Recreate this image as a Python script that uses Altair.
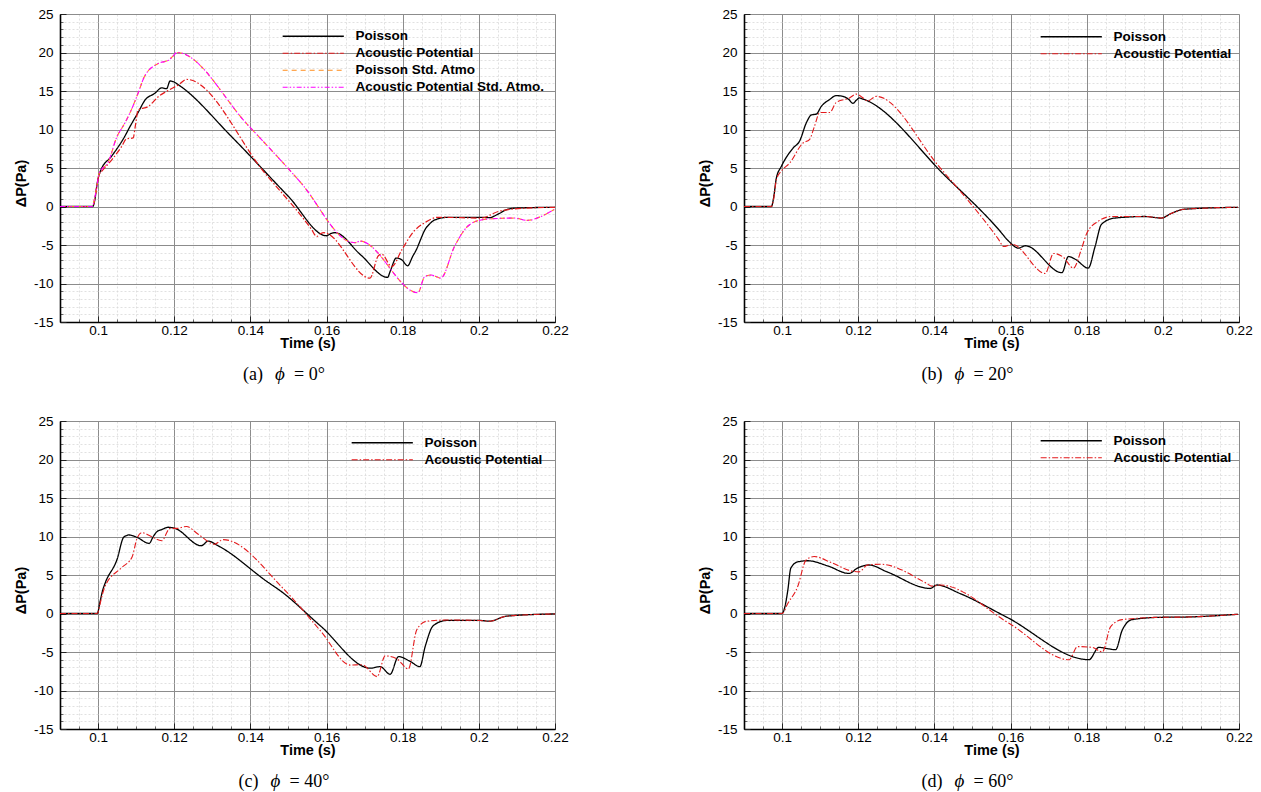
import altair as alt
import pandas as pd

# ---------------- data ----------------
SERIES = ["Poisson", "Acoustic Potential", "Poisson Std. Atmo", "Acoustic Potential Std. Atmo."]
COLORS = ["#000000", "#e31a1c", "#ff8c1a", "#ff00ff"]
DASHES = [[1, 0], [6, 2, 1.5, 2], [5, 4], [5, 2, 1.5, 2, 1.5, 2]]
WIDTHS = [1.3, 1.1, 1.1, 1.1]

# (a) phi = 0
a_poi_t = [0.09, 0.0986, 0.0992, 0.0997, 0.1002, 0.1008, 0.1035, 0.107, 0.1084, 0.1105, 0.1123, 0.1149, 0.1167, 0.118, 0.1189, 0.1198, 0.1211, 0.135, 0.15, 0.16, 0.1612, 0.1622, 0.169, 0.176, 0.1768, 0.1783, 0.1797, 0.1813, 0.1826, 0.1836, 0.1847, 0.1858, 0.187, 0.1884, 0.192, 0.2005, 0.2028, 0.205, 0.2076, 0.21, 0.22]
a_poi_v = [0, 0, 1.0, 2.8, 4.0, 4.8, 6.5, 9.1, 10.4, 12.2, 13.8, 14.7, 15.4, 15.3, 16.3, 16.2, 15.8, 9.1, 1.3, -3.8, -3.5, -3.4, -6.3, -9.2, -8.3, -6.7, -6.9, -7.7, -6.5, -5.6, -4.3, -3.05, -2.3, -1.75, -1.4, -1.4, -1.45, -1.0, -0.35, -0.2, -0.1]
a_ap_t = [0.09, 0.0985, 0.0992, 0.0998, 0.1003, 0.101, 0.1035, 0.1062, 0.1075, 0.1092, 0.1098, 0.1105, 0.1132, 0.1159, 0.1185, 0.1211, 0.1233, 0.1437, 0.1561, 0.1574, 0.1585, 0.1593, 0.1714, 0.1736, 0.1745, 0.1771, 0.1798, 0.1828, 0.1858, 0.1893, 0.2006, 0.2051, 0.2095, 0.22]
a_ap_v = [0, 0, 1.2, 3.0, 4.2, 4.6, 6.0, 7.8, 8.8, 8.9, 10.5, 12.5, 13.0, 14.3, 15.1, 15.8, 16.5, 4.4, -3.0, -3.9, -3.5, -3.4, -9.3, -6.4, -6.2, -7.8, -5.6, -3.3, -2.1, -1.4, -1.5, -0.65, -0.3, -0.1]
a_psa_t = [0.09, 0.0985, 0.0992, 0.0998, 0.1003, 0.1027, 0.1049, 0.107, 0.1085, 0.1105, 0.1122, 0.1159, 0.1185, 0.1196, 0.1207, 0.1393, 0.1534, 0.1662, 0.1675, 0.1688, 0.184, 0.1858, 0.1875, 0.19, 0.1936, 0.197, 0.2006, 0.205, 0.2093, 0.2128, 0.2163, 0.2198]
a_psa_v = [0, 0, 1.3, 3.0, 4.3, 5.8, 9.0, 10.8, 12.3, 14.7, 16.9, 18.6, 19.0, 19.5, 20.0, 10.6, 3.0, -4.6, -4.7, -4.5, -11.2, -9.1, -8.9, -9.3, -5.2, -2.6, -1.75, -1.55, -1.5, -1.8, -1.3, -0.4]
a_apsa_t = [0.09, 0.0985, 0.0992, 0.0998, 0.1003, 0.1027, 0.1049, 0.107, 0.1085, 0.1105, 0.1122, 0.1159, 0.1185, 0.1196, 0.1207, 0.1393, 0.1534, 0.1662, 0.1675, 0.1688, 0.184, 0.1858, 0.1875, 0.19, 0.1936, 0.197, 0.2006, 0.205, 0.2093, 0.2128, 0.2163, 0.2198]
a_apsa_v = [0, 0, 1.3, 3.0, 4.3, 5.8, 9.0, 10.8, 12.3, 14.7, 16.9, 18.6, 19.0, 19.5, 20.0, 10.6, 3.0, -4.6, -4.7, -4.5, -11.2, -9.1, -8.9, -9.3, -5.2, -2.6, -1.75, -1.55, -1.5, -1.8, -1.3, -0.4]

# (b) phi = 20
b_poi_t = [0.09, 0.0972, 0.0978, 0.0985, 0.0998, 0.1029, 0.1046, 0.1064, 0.1077, 0.109, 0.1103, 0.1125, 0.1142, 0.116, 0.1175, 0.1186, 0.1195, 0.1203, 0.121, 0.143, 0.1569, 0.1595, 0.1621, 0.1639, 0.1735, 0.1752, 0.177, 0.1804, 0.1822, 0.1839, 0.1874, 0.1953, 0.1996, 0.2022, 0.2057, 0.2197]
b_poi_v = [0, 0, 1.2, 3.7, 5.2, 7.6, 8.5, 10.9, 11.9, 12.0, 13.0, 13.9, 14.4, 14.3, 13.9, 13.4, 13.8, 14.1, 14.0, 3.9, -3.0, -4.5, -5.4, -5.1, -8.6, -6.5, -6.85, -8.0, -5.2, -2.3, -1.5, -1.3, -1.5, -0.9, -0.35, -0.1]
b_ap_t = [0.09, 0.0972, 0.0978, 0.0985, 0.0998, 0.102, 0.1055, 0.1072, 0.1085, 0.1099, 0.1125, 0.1142, 0.1177, 0.1195, 0.121, 0.1225, 0.1247, 0.1412, 0.1569, 0.1582, 0.1604, 0.1691, 0.1713, 0.1739, 0.1765, 0.1787, 0.18, 0.1831, 0.1865, 0.1953, 0.1996, 0.2022, 0.2057, 0.2197]
b_ap_v = [0, 0, 1.0, 3.5, 4.6, 5.65, 8.25, 8.7, 10.4, 12.2, 12.2, 13.5, 14.1, 14.6, 14.2, 13.7, 14.3, 5.2, -4.3, -5.2, -4.9, -8.7, -6.1, -6.6, -8.0, -5.4, -3.5, -1.9, -1.3, -1.3, -1.5, -0.9, -0.35, -0.1]

# (c) phi = 40
c_poi_t = [0.09, 0.0998, 0.1005, 0.1012, 0.1019, 0.105, 0.1067, 0.1074, 0.108, 0.1102, 0.1134, 0.1145, 0.1154, 0.1167, 0.1184, 0.1202, 0.1271, 0.1289, 0.1315, 0.1445, 0.148, 0.1585, 0.1715, 0.1741, 0.1767, 0.1789, 0.1819, 0.1845, 0.1859, 0.188, 0.1915, 0.2002, 0.2028, 0.2072, 0.22]
c_poi_v = [0, 0, 1.5, 3.0, 4.0, 7.05, 9.9, 10.1, 10.2, 9.9, 9.1, 10.0, 10.6, 10.9, 11.2, 11.05, 8.8, 9.4, 8.8, 4.1, 2.9, -1.65, -7.1, -6.9, -7.9, -5.6, -6.2, -6.9, -4.3, -1.6, -0.9, -0.9, -1.0, -0.35, -0.05]
c_ap_t = [0.09, 0.0998, 0.1005, 0.1012, 0.1019, 0.1063, 0.1089, 0.1102, 0.1115, 0.1136, 0.1167, 0.1189, 0.1206, 0.1232, 0.1263, 0.1306, 0.1328, 0.1489, 0.1585, 0.1663, 0.1693, 0.1733, 0.1754, 0.1785, 0.1815, 0.1837, 0.1863, 0.1915, 0.2002, 0.2028, 0.2072, 0.22]
c_ap_v = [0, 0, 1.2, 2.6, 3.6, 6.0, 7.3, 9.7, 10.5, 10.1, 9.45, 11.05, 11.05, 11.3, 10.3, 9.0, 9.6, 3.1, -2.3, -6.7, -6.65, -8.2, -5.5, -5.9, -7.2, -2.1, -1.0, -0.85, -0.9, -1.0, -0.35, -0.05]

# (d) phi = 60
d_poi_t = [0.09, 0.1, 0.1008, 0.1015, 0.1023, 0.1041, 0.1067, 0.1119, 0.1176, 0.1198, 0.1228, 0.1276, 0.1389, 0.1406, 0.1467, 0.1589, 0.1806, 0.1832, 0.1858, 0.1876, 0.1893, 0.1919, 0.1989, 0.2067, 0.2197]
d_poi_v = [0, 0, 1.0, 3.0, 5.9, 6.7, 6.85, 6.2, 5.2, 5.9, 6.3, 5.4, 3.25, 3.7, 2.6, -0.45, -6.0, -4.4, -4.6, -4.7, -2.2, -0.8, -0.5, -0.45, -0.1]
d_ap_t = [0.09, 0.1, 0.1015, 0.1041, 0.1063, 0.1084, 0.113, 0.118, 0.1202, 0.1224, 0.1258, 0.138, 0.1393, 0.1415, 0.1597, 0.1754, 0.1776, 0.1815, 0.1841, 0.1863, 0.1893, 0.1989, 0.2067, 0.2197]
d_ap_v = [0, 0, 1.3, 3.5, 6.95, 7.4, 6.6, 5.55, 5.4, 6.3, 6.4, 3.9, 3.55, 3.7, -1.3, -6.0, -4.3, -4.4, -5.0, -1.7, -0.8, -0.5, -0.45, -0.1]

# axis ticks
X_MAJOR = [0.1, 0.12, 0.14, 0.16, 0.18, 0.2, 0.22]
X_MINOR = [0.09, 0.095, 0.1, 0.105, 0.11, 0.115, 0.12, 0.125, 0.13, 0.135, 0.14, 0.145, 0.15, 0.155,
           0.16, 0.165, 0.17, 0.175, 0.18, 0.185, 0.19, 0.195, 0.2, 0.205, 0.21, 0.215, 0.22]
Y_MAJOR = [-15, -10, -5, 0, 5, 10, 15, 20, 25]
Y_MINOR = list(range(-15, 26))

# ---------------- layout constants ----------------
W, H = 495, 308
SANS = "Liberation Sans"
SERIF = "Liberation Serif"
# legend line symbol: custom path 12 units wide, scaled so that it is ~61 px long
SYM_PATH = "M-6,0H6"
SYM_SIZE = 104        # sqrt(104)/2 = 5.1 px per unit -> 61 px line
SYM_R = 5.1


def make_df(pairs):
    rows = []
    for name, ts, vs in pairs:
        for t, v in zip(ts, vs):
            rows.append({"series": name, "t": t, "v": v})
    return pd.DataFrame(rows)


def panel(pairs, line_start_x, first_row_y, letter, angle, shift):
    df = make_df(pairs)
    names = [p[0] for p in pairs]
    idx = [SERIES.index(n) for n in names]
    xs = alt.Scale(domain=[0.09, 0.22], nice=False, zero=False)
    ys = alt.Scale(domain=[-15, 25], nice=False, zero=False)
    base = alt.Chart(df)

    minor = base.mark_line(opacity=0).encode(
        x=alt.X("t:Q", scale=xs, axis=alt.Axis(
            orient="bottom", values=X_MINOR, grid=True, gridDash=[2, 2], gridColor="#d9d9d9",
            gridWidth=0.8, domain=False, labels=False, ticks=True, tickSize=3, tickColor="#444",
            tickWidth=0.8, offset=-3, title=None)),
        y=alt.Y("v:Q", scale=ys, axis=alt.Axis(
            orient="left", values=Y_MINOR, grid=True, gridDash=[2, 2], gridColor="#d9d9d9",
            gridWidth=0.8, domain=False, labels=False, ticks=True, tickSize=3, tickColor="#444",
            tickWidth=0.8, offset=-3, title=None)),
    )
    major = base.mark_line(opacity=0).encode(
        x=alt.X("t:Q", scale=xs, axis=alt.Axis(
            orient="bottom", values=X_MAJOR, grid=True, gridColor="#8c8c8c", gridWidth=1,
            domain=False, labels=False, ticks=True, tickSize=6, tickColor="#222", tickWidth=1,
            offset=-6, title=None)),
        y=alt.Y("v:Q", scale=ys, axis=alt.Axis(
            orient="left", values=Y_MAJOR, grid=True, gridColor="#8c8c8c", gridWidth=1,
            domain=False, labels=False, ticks=True, tickSize=6, tickColor="#222", tickWidth=1,
            offset=-6, title=None)),
    )
    labels = base.mark_line(opacity=0).encode(
        x=alt.X("t:Q", scale=xs, axis=alt.Axis(
            orient="bottom", values=X_MAJOR, grid=False, ticks=False, tickSize=0,
            domain=True, domainColor="#000", domainWidth=1.6,
            labelExpr="'' + datum.value", labelFont=SANS, labelFontSize=13.5, labelColor="#000",
            labelPadding=1, labelOverlap=False, labelFlush=False,
            title="Time (s)", titleFont=SANS, titleFontSize=14.5, titleFontWeight="bold",
            titleColor="#000", titleX=W / 2, titleY=25, titleBaseline="alphabetic",
            titleAlign="center")),
        y=alt.Y("v:Q", scale=ys, axis=alt.Axis(
            orient="left", values=Y_MAJOR, grid=False, ticks=False, tickSize=0,
            domain=True, domainColor="#000", domainWidth=1.6,
            labelExpr="'' + datum.value", labelFont=SANS, labelFontSize=13.5, labelColor="#000",
            labelPadding=7, labelOverlap=False, labelFlush=False,
            title="ΔP(Pa)", titleFont=SANS, titleFontSize=14.5, titleFontWeight="bold",
            titleColor="#000", titleAngle=270, titleX=-39, titleY=H / 2 + 15,
            titleBaseline="middle", titleAlign="center")),
    )

    leg = alt.Legend(orient="none", legendX=line_start_x + 6 * SYM_R - SYM_R,
                     legendY=first_row_y - 8, title=None,
                     symbolType=SYM_PATH, symbolSize=SYM_SIZE, symbolStrokeWidth=1.3,
                     labelFont=SANS, labelFontSize=13.5, labelFontWeight="bold",
                     labelColor="#000", labelOffset=6 * SYM_R - SYM_R + 10, labelLimit=400,
                     rowPadding=2, padding=0)
    lines = base.mark_line(interpolate="monotone", clip=True).encode(
        x=alt.X("t:Q", scale=xs, axis=None),
        y=alt.Y("v:Q", scale=ys, axis=None),
        color=alt.Color("series:N", scale=alt.Scale(domain=names, range=[COLORS[i] for i in idx]),
                        legend=leg),
        strokeDash=alt.StrokeDash("series:N",
                                  scale=alt.Scale(domain=names, range=[DASHES[i] for i in idx]),
                                  legend=leg),
        strokeWidth=alt.StrokeWidth("series:N",
                                    scale=alt.Scale(domain=names, range=[WIDTHS[i] for i in idx]),
                                    legend=None),
    )

    cap = pd.DataFrame({"a": [f"({letter})"], "p": ["ϕ"], "b": [f"= {angle}°"]})
    capbase = alt.Chart(cap)
    cap1 = capbase.mark_text(font=SERIF, fontSize=18, align="right", baseline="alphabetic",
                             color="#000").encode(x=alt.value(203 + shift), y=alt.value(H + 58), text="a:N")
    cap2 = capbase.mark_text(font=SERIF, fontSize=19, fontStyle="italic", align="center",
                             baseline="alphabetic", color="#000").encode(
        x=alt.value(220 + shift), y=alt.value(H + 58), text="p:N")
    cap3 = capbase.mark_text(font=SERIF, fontSize=18, align="left", baseline="alphabetic",
                             color="#000").encode(x=alt.value(234 + shift), y=alt.value(H + 58), text="b:N")

    return alt.layer(minor, major, labels, lines, cap1, cap2, cap3).resolve_axis(
        x="independent", y="independent").properties(width=W, height=H)


pa = panel([(SERIES[0], a_poi_t, a_poi_v), (SERIES[1], a_ap_t, a_ap_v),
            (SERIES[2], a_psa_t, a_psa_v), (SERIES[3], a_apsa_t, a_apsa_v)],
           221, 23.5, "a", "0", 0)
pb = panel([(SERIES[0], b_poi_t, b_poi_v), (SERIES[1], b_ap_t, b_ap_v)],
           295, 24, "b", "20", -4.5)
pc = panel([(SERIES[0], c_poi_t, c_poi_v), (SERIES[1], c_ap_t, c_ap_v)],
           290, 23, "c", "40", -4.5)
pd_ = panel([(SERIES[0], d_poi_t, d_poi_v), (SERIES[1], d_ap_t, d_ap_v)],
            295, 21, "d", "60", -4.5)

RES = dict(color="independent", strokeDash="independent", strokeWidth="independent")
top = alt.hconcat(pa, pb, spacing=127).resolve_scale(**RES).resolve_legend(color="independent", strokeDash="independent")
bot = alt.hconcat(pc, pd_, spacing=127).resolve_scale(**RES).resolve_legend(color="independent", strokeDash="independent")
chart = alt.vconcat(top, bot, spacing=28).resolve_scale(**RES).resolve_legend(
    color="independent", strokeDash="independent").properties(
    padding={"left": 12, "top": 6, "right": 5, "bottom": 0}
).configure_view(stroke=None).configure(background="white")

chart.save("out.html", embed_options={"renderer": "svg", "actions": False})
